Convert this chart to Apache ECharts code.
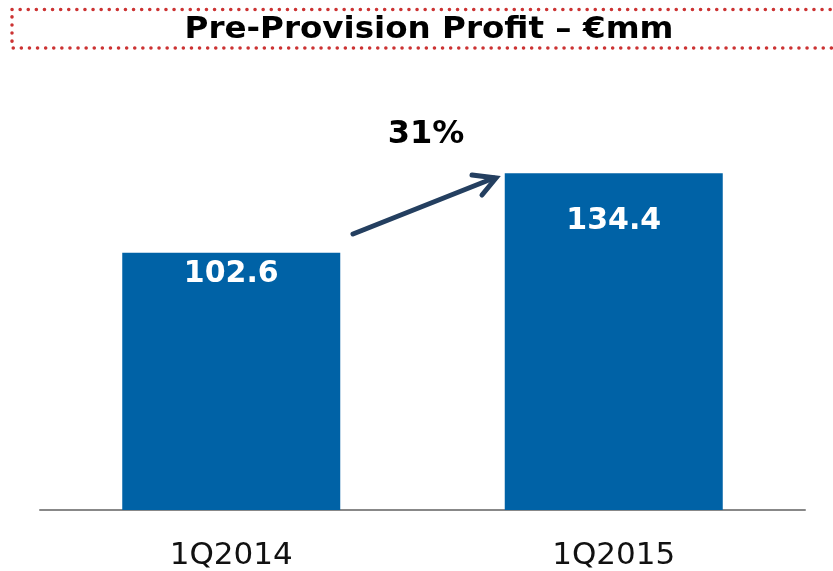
<!DOCTYPE html>
<html>
<head>
<meta charset="utf-8">
<script src="https://cdn.jsdelivr.net/npm/echarts@6/dist/echarts.min.js"></script>
<style>
  html, body { margin: 0; padding: 0; background: #fff; }
  #chart { width: 833px; height: 571px; }
</style>
</head>
<body>
<div id="chart"></div>
<script>
var categories = ['1Q2014', '1Q2015'];
var profit = [102.6, 134.4];
var growthLabel = '31%';
var titleText = 'Pre-Provision Profit \u2013 \u20acmm';

var barColor = '#0062A6';
var font = '"DejaVu Sans", Verdana, sans-serif';

var chart = echarts.init(document.getElementById('chart'));

// label sits at different depths inside each bar in the original
var labelDistance = [6, 33];

chart.setOption({
  animation: false,
  backgroundColor: '#fff',
  grid: { left: 40, right: 28, top: 109, bottom: 61 },
  xAxis: {
    type: 'category',
    data: categories,
    axisLine: { lineStyle: { color: '#888', width: 2 } },
    axisTick: { show: false },
    axisLabel: {
      color: '#111',
      fontFamily: font,
      fontSize: 31,
      margin: 30
    }
  },
  yAxis: {
    type: 'value',
    min: 0,
    max: 160,
    show: false,
    splitLine: { show: false }
  },
  series: [{
    type: 'bar',
    barWidth: 218,
    itemStyle: { color: barColor },
    data: profit.map(function (v, i) {
      return {
        value: v,
        label: { distance: labelDistance[i] }
      };
    }),
    label: {
      show: true,
      position: 'insideTop',
      color: '#fff',
      fontFamily: font,
      fontWeight: 'bold',
      fontSize: 30,
      formatter: function (p) { return p.value.toFixed(1); }
    }
  }],
  graphic: [
    {
      type: 'rect',
      shape: { x: 12, y: 9.5, width: 840, height: 38.5 },
      style: {
        fill: 'none',
        stroke: '#CC3333',
        lineWidth: 3.5,
        lineDash: [0.1, 8],
        lineCap: 'round'
      }
    },
    {
      type: 'text',
      x: 429,
      y: 30,
      scaleX: 1.05,
      style: {
        text: titleText,
        fill: '#000',
        font: 'bold 31px ' + font,
        align: 'center',
        verticalAlign: 'middle'
      }
    },
    {
      type: 'line',
      shape: { x1: 353, y1: 234, x2: 494, y2: 178 },
      style: { stroke: '#243F60', lineWidth: 5, lineCap: 'round' }
    },
    {
      type: 'polyline',
      shape: { points: [[472, 175], [496, 178], [482, 195]] },
      style: { stroke: '#243F60', fill: 'none', lineWidth: 5, lineCap: 'round', lineJoin: 'miter' }
    },
    {
      type: 'text',
      x: 426,
      y: 135,
      style: {
        text: growthLabel,
        fill: '#000',
        font: 'bold 32px ' + font,
        align: 'center',
        verticalAlign: 'middle'
      }
    }
  ]
});
</script>
</body>
</html>
